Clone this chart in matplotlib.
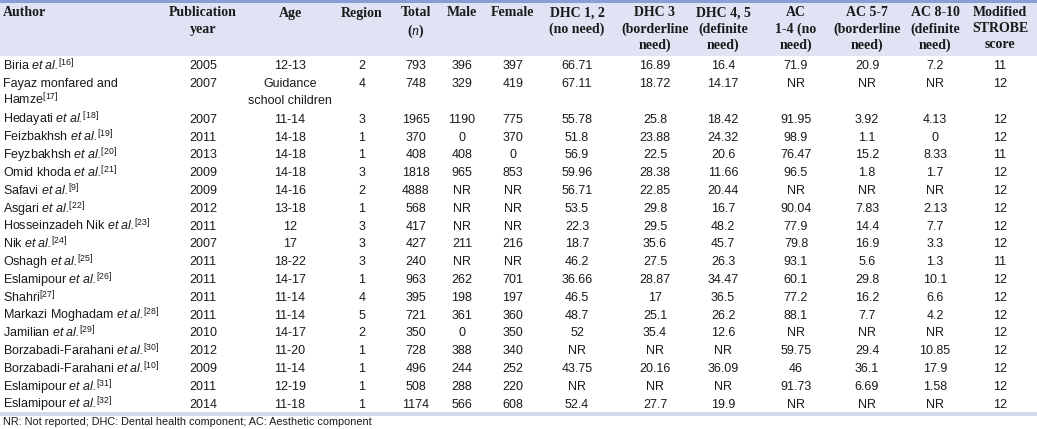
import matplotlib
matplotlib.use("Agg")
import matplotlib.pyplot as plt
from matplotlib.patches import Rectangle

plt.rcParams['font.family'] = ['Liberation Sans', 'DejaVu Sans']
plt.rcParams['mathtext.fontset'] = 'custom'
plt.rcParams['mathtext.rm'] = 'Liberation Sans'
plt.rcParams['mathtext.sf'] = 'Liberation Sans:italic'
plt.rcParams['mathtext.it'] = 'Liberation Serif:italic'
plt.rcParams['mathtext.bf'] = 'Liberation Serif:bold'

# ---------------- data ----------------
headers = ["Author", "Publication\nyear", "Age", "Region", "Total\n($\\mathit{n}$)", "Male", "Female",
           "DHC 1, 2\n(no need)", "DHC 3\n(borderline\nneed)", "DHC 4, 5\n(definite\nneed)",
           "AC\n1-4 (no\nneed)", "AC 5-7\n(borderline\nneed)", "AC 8-10\n(definite\nneed)",
           "Modified\nSTROBE\nscore"]

authors = ["Biria $\\mathsf{et\\ al.}\\!{}^{[16]}$",
           "Fayaz monfared and\nHamze$^{[17]}$",
           "Hedayati $\\mathsf{et\\ al.}\\!{}^{[18]}$",
           "Feizbakhsh $\\mathsf{et\\ al.}\\!{}^{[19]}$",
           "Feyzbakhsh $\\mathsf{et\\ al.}\\!{}^{[20]}$",
           "Omid khoda $\\mathsf{et\\ al.}\\!{}^{[21]}$",
           "Safavi $\\mathsf{et\\ al.}\\!{}^{[9]}$",
           "Asgari $\\mathsf{et\\ al.}\\!{}^{[22]}$",
           "Hosseinzadeh Nik $\\mathsf{et\\ al.}\\!{}^{[23]}$",
           "Nik $\\mathsf{et\\ al.}\\!{}^{[24]}$",
           "Oshagh $\\mathsf{et\\ al.}\\!{}^{[25]}$",
           "Eslamipour $\\mathsf{et\\ al.}\\!{}^{[26]}$",
           "Shahri$^{[27]}$",
           "Markazi Moghadam $\\mathsf{et\\ al.}\\!{}^{[28]}$",
           "Jamilian $\\mathsf{et\\ al.}\\!{}^{[29]}$",
           "Borzabadi-Farahani $\\mathsf{et\\ al.}\\!{}^{[30]}$",
           "Borzabadi-Farahani $\\mathsf{et\\ al.}\\!{}^{[10]}$",
           "Eslamipour $\\mathsf{et\\ al.}\\!{}^{[31]}$",
           "Eslamipour $\\mathsf{et\\ al.}\\!{}^{[32]}$"]

pub_year = ["2005", "2007", "2007", "2011", "2013", "2009", "2009", "2012", "2011", "2007",
            "2011", "2011", "2011", "2011", "2010", "2012", "2009", "2011", "2014"]
age = ["12-13", "Guidance\nschool children", "11-14", "14-18", "14-18", "14-18", "14-16", "13-18",
       "12", "17", "18-22", "14-17", "11-14", "11-14", "14-17", "11-20", "11-14", "12-19", "11-18"]
region = ["2", "4", "3", "1", "1", "3", "2", "1", "3", "3", "3", "1", "4", "5", "2", "1", "1", "1", "1"]
total = ["793", "748", "1965", "370", "408", "1818", "4888", "568", "417", "427", "240", "963",
         "395", "721", "350", "728", "496", "508", "1174"]
male = ["396", "329", "1190", "0", "408", "965", "NR", "NR", "NR", "211", "NR", "262",
        "198", "361", "0", "388", "244", "288", "566"]
female = ["397", "419", "775", "370", "0", "853", "NR", "NR", "NR", "216", "NR", "701",
          "197", "360", "350", "340", "252", "220", "608"]
dhc_12 = ["66.71", "67.11", "55.78", "51.8", "56.9", "59.96", "56.71", "53.5", "22.3", "18.7",
          "46.2", "36.66", "46.5", "48.7", "52", "NR", "43.75", "NR", "52.4"]
dhc_3 = ["16.89", "18.72", "25.8", "23.88", "22.5", "28.38", "22.85", "29.8", "29.5", "35.6",
         "27.5", "28.87", "17", "25.1", "35.4", "NR", "20.16", "NR", "27.7"]
dhc_45 = ["16.4", "14.17", "18.42", "24.32", "20.6", "11.66", "20.44", "16.7", "48.2", "45.7",
          "26.3", "34.47", "36.5", "26.2", "12.6", "NR", "36.09", "NR", "19.9"]
ac_14 = ["71.9", "NR", "91.95", "98.9", "76.47", "96.5", "NR", "90.04", "77.9", "79.8",
         "93.1", "60.1", "77.2", "88.1", "NR", "59.75", "46", "91.73", "NR"]
ac_57 = ["20.9", "NR", "3.92", "1.1", "15.2", "1.8", "NR", "7.83", "14.4", "16.9",
         "5.6", "29.8", "16.2", "7.7", "NR", "29.4", "36.1", "6.69", "NR"]
ac_810 = ["7.2", "NR", "4.13", "0", "8.33", "1.7", "NR", "2.13", "7.7", "3.3",
          "1.3", "10.1", "6.6", "4.2", "NR", "10.85", "17.9", "1.58", "NR"]
strobe = ["11", "12", "12", "12", "11", "12", "12", "12", "12", "12",
          "11", "12", "12", "12", "12", "12", "12", "12", "12"]

footnote = "NR: Not reported; DHC: Dental health component; AC: Aesthetic component"

columns = [authors, pub_year, age, region, total, male, female, dhc_12, dhc_3, dhc_45,
           ac_14, ac_57, ac_810, strobe]

# ---------------- layout ----------------
W, H = 1037, 429
fig = plt.figure(figsize=(W / 100, H / 100), dpi=100)
ax = fig.add_axes([0, 0, 1, 1])
ax.set_xlim(0, W)
ax.set_ylim(H, 0)
ax.axis('off')

col_x = [3, 203, 290, 362, 416, 462, 513, 577, 655, 723, 796, 867, 935, 1000]
txt_color = '#1a1a1a'

# header background and rule
ax.add_patch(Rectangle((0, 0), W, 56, facecolor='#dfe3f4', edgecolor='none'))
ax.add_patch(Rectangle((0, 0), W, 2.8, facecolor='#8c9dd3', edgecolor='none'))

hdr_top = 6.5
hdr_pitch = 16.0
for j, h in enumerate(headers):
    for k, line in enumerate(h.split('\n')):
        ax.text(col_x[j], hdr_top + k * hdr_pitch, line,
                ha='left' if j == 0 else 'center', va='top',
                fontsize=10, fontweight='bold', family='Liberation Serif', color=txt_color)

# body
row_y = 65.0
row_pitch = 17.8
line_pitch = 16.5
base_off = 4.4
for i in range(len(authors)):
    nlines = 1
    for j, col in enumerate(columns):
        lines = col[i].split('\n')
        nlines = max(nlines, len(lines))
        for k, line in enumerate(lines):
            ax.text(col_x[j], row_y + k * line_pitch + base_off, line,
                    ha='left' if j == 0 else 'center', va='baseline',
                    fontsize=9, color=txt_color)
    row_y += row_pitch * nlines

# bottom band
band_top = row_y - row_pitch / 2 - 0.5
ax.add_patch(Rectangle((0, band_top), W, 4, facecolor='#d5d9ef', edgecolor='none'))

ax.text(3, band_top + 13, footnote, ha='left', va='baseline', fontsize=7.8, color=txt_color)

fig.savefig('out.png', dpi=100)
